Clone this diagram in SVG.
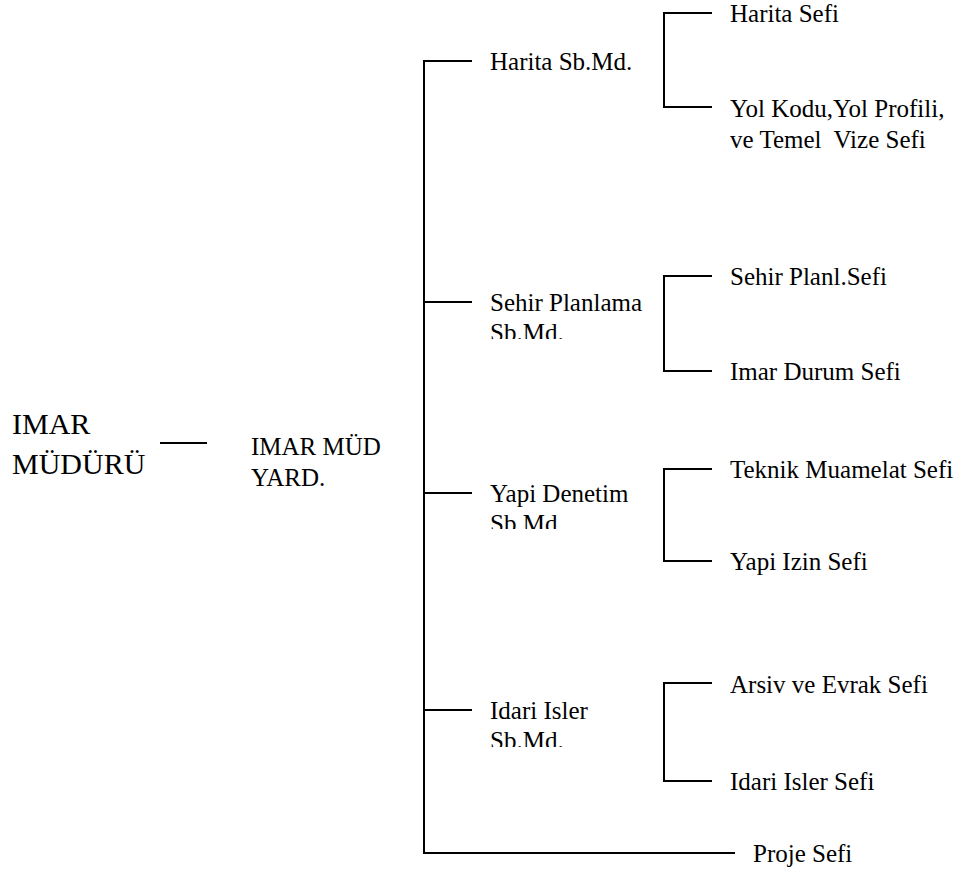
<svg xmlns="http://www.w3.org/2000/svg" width="964" height="870" viewBox="0 0 964 870">
<style>
.big{font-size:30px}
.lbl{font-size:25px}
.con line{stroke:#000;stroke-width:2;fill:none}
</style>
<defs>
<clipPath id="c1"><rect x="480" y="280" width="200" height="59"/></clipPath>
<clipPath id="c2"><rect x="480" y="472" width="200" height="57"/></clipPath>
<clipPath id="c3"><rect x="480" y="690" width="200" height="57"/></clipPath>
</defs>
<rect width="964" height="870" fill="#fff"/>
<g class="con" id="connectors">
<line x1="160" y1="443" x2="207" y2="443"/>
<line x1="424" y1="60" x2="424" y2="854"/>
<line x1="423" y1="61" x2="472" y2="61"/>
<line x1="424" y1="302" x2="472" y2="302"/>
<line x1="424" y1="493" x2="472" y2="493"/>
<line x1="424" y1="710" x2="472" y2="710"/>
<line x1="423" y1="853" x2="735" y2="853"/>
<line x1="664" y1="12" x2="664" y2="108"/>
<line x1="663" y1="13" x2="712" y2="13"/>
<line x1="663" y1="107" x2="712" y2="107"/>
<line x1="664" y1="275" x2="664" y2="372"/>
<line x1="663" y1="276" x2="712" y2="276"/>
<line x1="663" y1="371" x2="712" y2="371"/>
<line x1="664" y1="468" x2="664" y2="562"/>
<line x1="663" y1="469" x2="712" y2="469"/>
<line x1="663" y1="561" x2="712" y2="561"/>
<line x1="664" y1="682" x2="664" y2="782"/>
<line x1="663" y1="683" x2="712" y2="683"/>
<line x1="663" y1="781" x2="712" y2="781"/>
</g>
<g id="imar-muduru"><text font-family="Liberation Serif" class="big" x="12" y="434">IMAR</text><text font-family="Liberation Serif" class="big" x="12" y="474">MÜDÜRÜ</text></g>
<g id="imar-mud-yard"><text font-family="Liberation Serif" class="lbl" x="251" y="455">IMAR MÜD</text><text font-family="Liberation Serif" class="lbl" x="251" y="486">YARD.</text></g>
<g id="harita-sbmd"><text font-family="Liberation Serif" class="lbl" x="490" y="70">Harita Sb.Md.</text></g>
<g id="sehir-sbmd" clip-path="url(#c1)"><text font-family="Liberation Serif" class="lbl" x="490" y="311">Sehir Planlama</text><text font-family="Liberation Serif" class="lbl" x="490" y="341">Sb.Md.</text></g>
<g id="yapi-sbmd" clip-path="url(#c2)"><text font-family="Liberation Serif" class="lbl" x="490" y="502">Yapi Denetim</text><text font-family="Liberation Serif" class="lbl" x="490" y="532">Sb.Md.</text></g>
<g id="idari-sbmd" clip-path="url(#c3)"><text font-family="Liberation Serif" class="lbl" x="490" y="719">Idari Isler</text><text font-family="Liberation Serif" class="lbl" x="490" y="749">Sb.Md.</text></g>
<g id="harita-sefi"><text font-family="Liberation Serif" class="lbl" x="730" y="22">Harita Sefi</text></g>
<g id="yol-kodu-sefi"><text font-family="Liberation Serif" class="lbl" x="730" y="117">Yol Kodu,Yol Profili,</text><text font-family="Liberation Serif" class="lbl" x="730" y="148" xml:space="preserve">ve Temel  Vize Sefi</text></g>
<g id="sehir-planl-sefi"><text font-family="Liberation Serif" class="lbl" x="730" y="285">Sehir Planl.Sefi</text></g>
<g id="imar-durum-sefi"><text font-family="Liberation Serif" class="lbl" x="730" y="380">Imar Durum Sefi</text></g>
<g id="teknik-muamelat-sefi"><text font-family="Liberation Serif" class="lbl" x="730" y="478">Teknik Muamelat Sefi</text></g>
<g id="yapi-izin-sefi"><text font-family="Liberation Serif" class="lbl" x="730" y="570">Yapi Izin Sefi</text></g>
<g id="arsiv-evrak-sefi"><text font-family="Liberation Serif" class="lbl" x="730" y="693">Arsiv ve Evrak Sefi</text></g>
<g id="idari-isler-sefi"><text font-family="Liberation Serif" class="lbl" x="730" y="790">Idari Isler Sefi</text></g>
<g id="proje-sefi"><text font-family="Liberation Serif" class="lbl" x="753" y="862">Proje Sefi</text></g>
</svg>
